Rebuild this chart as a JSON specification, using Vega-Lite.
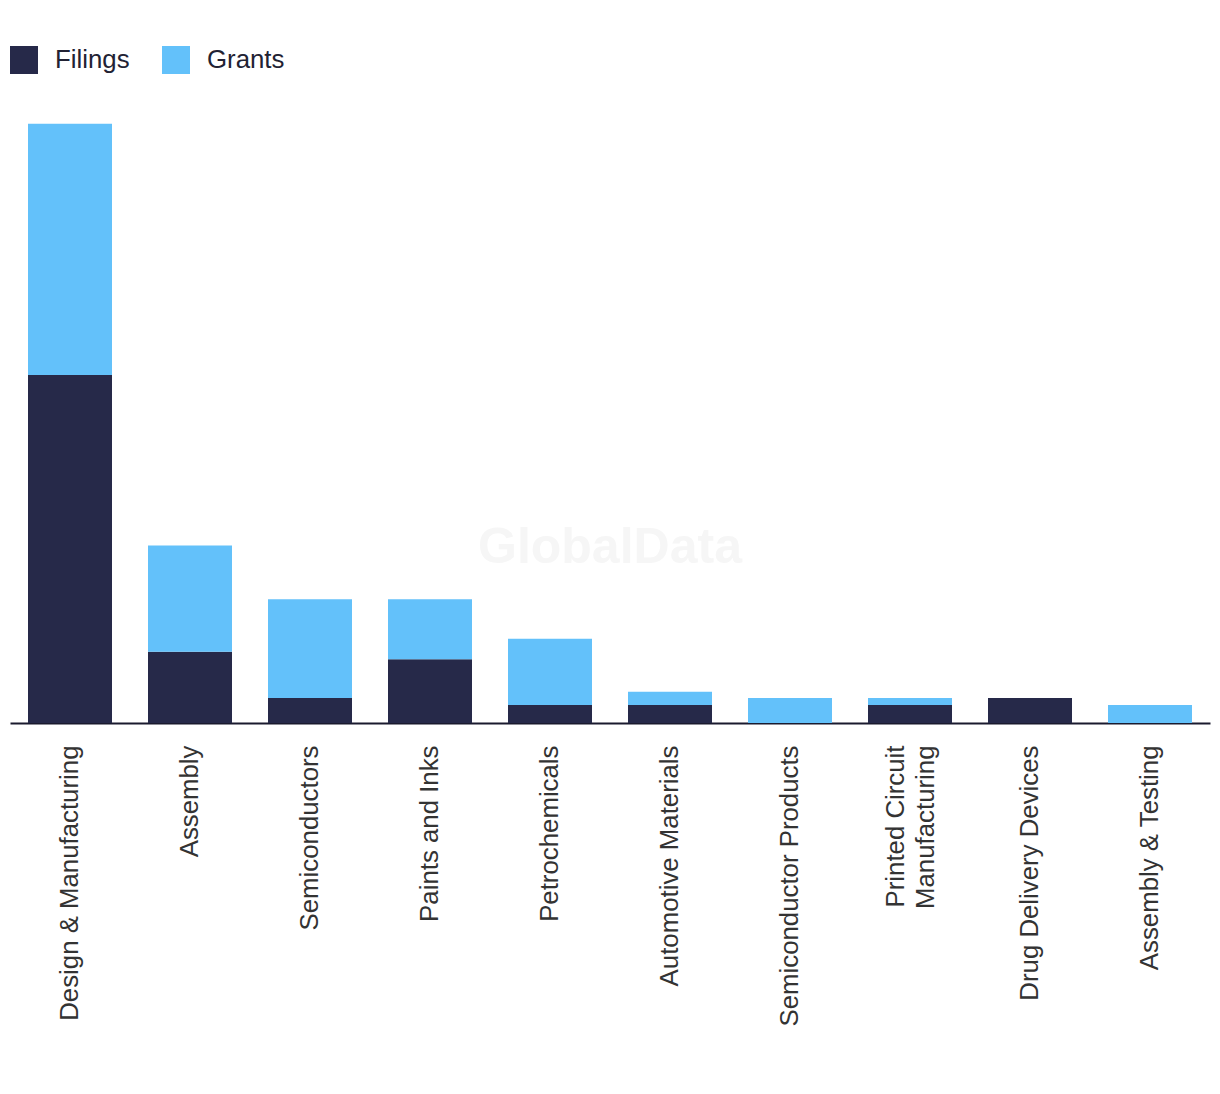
{
  "$schema": "https://vega.github.io/schema/vega-lite/v6.json",
  "width": 1200,
  "height": 600,
  "autosize": {"type": "none"},
  "padding": {"left": 10, "top": 123, "right": 10, "bottom": 371},
  "background": "#ffffff",
  "config": {
    "view": {"stroke": null},
    "font": "Liberation Sans"
  },
  "data": {
    "values": [
      {"sector": "Design & Manufacturing", "type": "Filings", "count": 55.7},
      {"sector": "Design & Manufacturing", "type": "Grants", "count": 40.2},
      {"sector": "Assembly", "type": "Filings", "count": 11.4},
      {"sector": "Assembly", "type": "Grants", "count": 17.0},
      {"sector": "Semiconductors", "type": "Filings", "count": 4.0},
      {"sector": "Semiconductors", "type": "Grants", "count": 15.8},
      {"sector": "Paints and Inks", "type": "Filings", "count": 10.2},
      {"sector": "Paints and Inks", "type": "Grants", "count": 9.6},
      {"sector": "Petrochemicals", "type": "Filings", "count": 2.9},
      {"sector": "Petrochemicals", "type": "Grants", "count": 10.6},
      {"sector": "Automotive Materials", "type": "Filings", "count": 2.9},
      {"sector": "Automotive Materials", "type": "Grants", "count": 2.1},
      {"sector": "Semiconductor Products", "type": "Filings", "count": 0},
      {"sector": "Semiconductor Products", "type": "Grants", "count": 4.0},
      {"sector": "Printed Circuit Manufacturing", "type": "Filings", "count": 2.9},
      {"sector": "Printed Circuit Manufacturing", "type": "Grants", "count": 1.1},
      {"sector": "Drug Delivery Devices", "type": "Filings", "count": 4.0},
      {"sector": "Drug Delivery Devices", "type": "Grants", "count": 0},
      {"sector": "Assembly & Testing", "type": "Filings", "count": 0},
      {"sector": "Assembly & Testing", "type": "Grants", "count": 2.9}
    ]
  },
  "layer": [
    {
      "mark": {"type": "bar"},
      "encoding": {
        "x": {
          "field": "sector",
          "type": "nominal",
          "sort": null,
          "scale": {"paddingInner": 0.3, "paddingOuter": 0.15},
          "axis": {
            "title": null,
            "labelAngle": -90,
            "labelFontSize": 25.8,
            "labelColor": "#333333",
            "labelFont": "Liberation Sans",
            "labelPadding": 22,
            "labelLimit": 400,
            "labelLineHeight": 30,
            "labelOffset": {"condition": {"test": "datum.value == 'Printed Circuit Manufacturing'", "value": -14}, "value": 0},
            "ticks": false,
            "domainColor": "#1a1a2e",
            "domainWidth": 2,
            "labelExpr": "datum.value == 'Printed Circuit Manufacturing' ? ['Printed Circuit', 'Manufacturing'] : datum.value"
          }
        },
        "y": {
          "field": "count",
          "type": "quantitative",
          "stack": "zero",
          "scale": {"domain": [0, 96], "nice": false},
          "axis": null
        },
        "order": {"field": "type", "sort": "ascending"},
        "color": {
          "field": "type",
          "type": "nominal",
          "scale": {"domain": ["Filings", "Grants"], "range": ["#262949", "#63c1fa"]},
          "legend": {
            "title": null,
            "orient": "top",
            "direction": "horizontal",
            "offset": 49,
            "symbolType": "square",
            "symbolSize": 784,
            "symbolStrokeWidth": 0,
            "symbolOpacity": 1,
            "labelFontSize": 25.8,
            "labelFont": "Liberation Sans",
            "labelColor": "#222233",
            "labelOffset": 17,
            "columnPadding": 32
          }
        }
      }
    },
    {
      "data": {"values": [{"label": "GlobalData", "sector": "Petrochemicals", "v": 28}]},
      "mark": {"type": "text", "font": "Liberation Sans", "fontWeight": "bold", "fontSize": 50, "color": "#f6f6f6", "align": "center", "baseline": "middle"},
      "encoding": {
        "x": {"field": "sector", "type": "nominal", "sort": null, "bandPosition": 1.214},
        "y": {"field": "v", "type": "quantitative"},
        "text": {"field": "label"}
      }
    }
  ]
}
